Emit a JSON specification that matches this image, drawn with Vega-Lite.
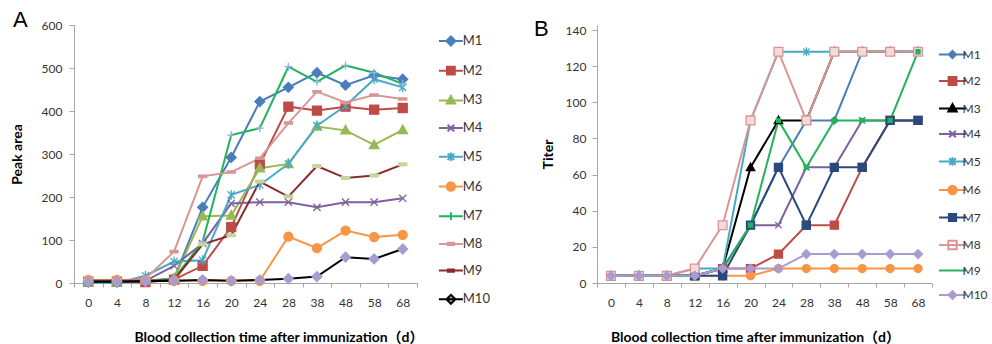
{
  "$schema": "https://vega.github.io/schema/vega-lite/v6.json",
  "background": "white",
  "padding": {"left": 10, "top": 9, "right": 0, "bottom": 0},
  "config": {
    "font": "Lato",
    "view": {"stroke": null},
    "axis": {"grid": false, "domainColor": "#A6A6A6", "tickColor": "#A6A6A6", "labelColor": "#333333", "labelFontSize": 12, "labelFont": "Lato", "titleFont": "Lato, Noto Sans CJK SC", "titleFontSize": 14, "titleFontWeight": "bold", "titleColor": "#000000"},
    "title": {"font": "Liberation Sans", "fontSize": 22, "fontWeight": "normal", "anchor": "start", "frame": "bounds", "baseline": "alphabetic", "color": "#000000"},
    "legend": {"title": null, "padding": 0, "labelFont": "Lato", "labelFontSize": 13, "labelColor": "#333333", "symbolSize": 36, "symbolStrokeWidth": 2, "symbolOpacity": 1}
  },
  "datasets": {
    "peak": [
      {"s":"M1","d":0,"v":3},{"s":"M1","d":4,"v":3},{"s":"M1","d":8,"v":5},{"s":"M1","d":12,"v":10},{"s":"M1","d":16,"v":176},{"s":"M1","d":20,"v":292},{"s":"M1","d":24,"v":422},{"s":"M1","d":28,"v":455},{"s":"M1","d":38,"v":489},{"s":"M1","d":48,"v":460},{"s":"M1","d":58,"v":483},{"s":"M1","d":68,"v":474},
      {"s":"M2","d":0,"v":3},{"s":"M2","d":4,"v":3},{"s":"M2","d":8,"v":2},{"s":"M2","d":12,"v":8},{"s":"M2","d":16,"v":40},{"s":"M2","d":20,"v":130},{"s":"M2","d":24,"v":276},{"s":"M2","d":28,"v":410},{"s":"M2","d":38,"v":401},{"s":"M2","d":48,"v":410},{"s":"M2","d":58,"v":403},{"s":"M2","d":68,"v":407},
      {"s":"M3","d":0,"v":2},{"s":"M3","d":4,"v":2},{"s":"M3","d":8,"v":5},{"s":"M3","d":12,"v":10},{"s":"M3","d":16,"v":155},{"s":"M3","d":20,"v":157},{"s":"M3","d":24,"v":267},{"s":"M3","d":28,"v":277},{"s":"M3","d":38,"v":364},{"s":"M3","d":48,"v":355},{"s":"M3","d":58,"v":321},{"s":"M3","d":68,"v":356},
      {"s":"M4","d":0,"v":2},{"s":"M4","d":4,"v":2},{"s":"M4","d":8,"v":5},{"s":"M4","d":12,"v":40},{"s":"M4","d":16,"v":92},{"s":"M4","d":20,"v":185},{"s":"M4","d":24,"v":188},{"s":"M4","d":28,"v":188},{"s":"M4","d":38,"v":176},{"s":"M4","d":48,"v":188},{"s":"M4","d":58,"v":188},{"s":"M4","d":68,"v":197},
      {"s":"M5","d":0,"v":0},{"s":"M5","d":4,"v":0},{"s":"M5","d":8,"v":17},{"s":"M5","d":12,"v":50},{"s":"M5","d":16,"v":53},{"s":"M5","d":20,"v":205},{"s":"M5","d":24,"v":228},{"s":"M5","d":28,"v":277},{"s":"M5","d":38,"v":366},{"s":"M5","d":48,"v":412},{"s":"M5","d":58,"v":474},{"s":"M5","d":68,"v":455},
      {"s":"M6","d":0,"v":7},{"s":"M6","d":4,"v":7},{"s":"M6","d":8,"v":6},{"s":"M6","d":12,"v":5},{"s":"M6","d":16,"v":5},{"s":"M6","d":20,"v":5},{"s":"M6","d":24,"v":5},{"s":"M6","d":28,"v":108},{"s":"M6","d":38,"v":81},{"s":"M6","d":48,"v":122},{"s":"M6","d":58,"v":107},{"s":"M6","d":68,"v":112},
      {"s":"M7","d":0,"v":5},{"s":"M7","d":4,"v":5},{"s":"M7","d":8,"v":5},{"s":"M7","d":12,"v":10},{"s":"M7","d":16,"v":96},{"s":"M7","d":20,"v":344},{"s":"M7","d":24,"v":360},{"s":"M7","d":28,"v":503},{"s":"M7","d":38,"v":468},{"s":"M7","d":48,"v":506},{"s":"M7","d":58,"v":489},{"s":"M7","d":68,"v":463},
      {"s":"M8","d":0,"v":5},{"s":"M8","d":4,"v":5},{"s":"M8","d":8,"v":10},{"s":"M8","d":12,"v":73},{"s":"M8","d":16,"v":248},{"s":"M8","d":20,"v":258},{"s":"M8","d":24,"v":290},{"s":"M8","d":28,"v":372},{"s":"M8","d":38,"v":445},{"s":"M8","d":48,"v":420},{"s":"M8","d":58,"v":437},{"s":"M8","d":68,"v":428},
      {"s":"M9","d":0,"v":5},{"s":"M9","d":4,"v":5},{"s":"M9","d":8,"v":5},{"s":"M9","d":12,"v":7},{"s":"M9","d":16,"v":90},{"s":"M9","d":20,"v":111},{"s":"M9","d":24,"v":236},{"s":"M9","d":28,"v":201},{"s":"M9","d":38,"v":272},{"s":"M9","d":48,"v":244},{"s":"M9","d":58,"v":250},{"s":"M9","d":68,"v":276},
      {"s":"M10","d":0,"v":3},{"s":"M10","d":4,"v":3},{"s":"M10","d":8,"v":4},{"s":"M10","d":12,"v":5},{"s":"M10","d":16,"v":7},{"s":"M10","d":20,"v":5},{"s":"M10","d":24,"v":7},{"s":"M10","d":28,"v":10},{"s":"M10","d":38,"v":15},{"s":"M10","d":48,"v":60},{"s":"M10","d":58,"v":56},{"s":"M10","d":68,"v":79}
    ],
    "titer": [
      {"s":"M1","d":0,"v":4},{"s":"M1","d":4,"v":4},{"s":"M1","d":8,"v":4},{"s":"M1","d":12,"v":4},{"s":"M1","d":16,"v":8},{"s":"M1","d":20,"v":32},{"s":"M1","d":24,"v":64},{"s":"M1","d":28,"v":90},{"s":"M1","d":38,"v":90},{"s":"M1","d":48,"v":128},{"s":"M1","d":58,"v":128},{"s":"M1","d":68,"v":128},
      {"s":"M2","d":0,"v":4},{"s":"M2","d":4,"v":4},{"s":"M2","d":8,"v":4},{"s":"M2","d":12,"v":4},{"s":"M2","d":16,"v":8},{"s":"M2","d":20,"v":8},{"s":"M2","d":24,"v":16},{"s":"M2","d":28,"v":32},{"s":"M2","d":38,"v":32},{"s":"M2","d":48,"v":64},{"s":"M2","d":58,"v":90},{"s":"M2","d":68,"v":90},
      {"s":"M3","d":0,"v":4},{"s":"M3","d":4,"v":4},{"s":"M3","d":8,"v":4},{"s":"M3","d":12,"v":4},{"s":"M3","d":16,"v":8},{"s":"M3","d":20,"v":64},{"s":"M3","d":24,"v":90},{"s":"M3","d":28,"v":90},{"s":"M3","d":38,"v":128},{"s":"M3","d":48,"v":128},{"s":"M3","d":58,"v":128},{"s":"M3","d":68,"v":128},
      {"s":"M4","d":0,"v":4},{"s":"M4","d":4,"v":4},{"s":"M4","d":8,"v":4},{"s":"M4","d":12,"v":4},{"s":"M4","d":16,"v":8},{"s":"M4","d":20,"v":32},{"s":"M4","d":24,"v":32},{"s":"M4","d":28,"v":64},{"s":"M4","d":38,"v":64},{"s":"M4","d":48,"v":90},{"s":"M4","d":58,"v":90},{"s":"M4","d":68,"v":90},
      {"s":"M5","d":0,"v":4},{"s":"M5","d":4,"v":4},{"s":"M5","d":8,"v":4},{"s":"M5","d":12,"v":8},{"s":"M5","d":16,"v":8},{"s":"M5","d":20,"v":90},{"s":"M5","d":24,"v":128},{"s":"M5","d":28,"v":128},{"s":"M5","d":38,"v":128},{"s":"M5","d":48,"v":128},{"s":"M5","d":58,"v":128},{"s":"M5","d":68,"v":128},
      {"s":"M6","d":0,"v":4},{"s":"M6","d":4,"v":4},{"s":"M6","d":8,"v":4},{"s":"M6","d":12,"v":4},{"s":"M6","d":16,"v":4},{"s":"M6","d":20,"v":4},{"s":"M6","d":24,"v":8},{"s":"M6","d":28,"v":8},{"s":"M6","d":38,"v":8},{"s":"M6","d":48,"v":8},{"s":"M6","d":58,"v":8},{"s":"M6","d":68,"v":8},
      {"s":"M7","d":0,"v":4},{"s":"M7","d":4,"v":4},{"s":"M7","d":8,"v":4},{"s":"M7","d":12,"v":4},{"s":"M7","d":16,"v":4},{"s":"M7","d":20,"v":32},{"s":"M7","d":24,"v":64},{"s":"M7","d":28,"v":32},{"s":"M7","d":38,"v":64},{"s":"M7","d":48,"v":64},{"s":"M7","d":58,"v":90},{"s":"M7","d":68,"v":90},
      {"s":"M8","d":0,"v":4},{"s":"M8","d":4,"v":4},{"s":"M8","d":8,"v":4},{"s":"M8","d":12,"v":8},{"s":"M8","d":16,"v":32},{"s":"M8","d":20,"v":90},{"s":"M8","d":24,"v":128},{"s":"M8","d":28,"v":90},{"s":"M8","d":38,"v":128},{"s":"M8","d":48,"v":128},{"s":"M8","d":58,"v":128},{"s":"M8","d":68,"v":128},
      {"s":"M9","d":0,"v":4},{"s":"M9","d":4,"v":4},{"s":"M9","d":8,"v":4},{"s":"M9","d":12,"v":4},{"s":"M9","d":16,"v":8},{"s":"M9","d":20,"v":32},{"s":"M9","d":24,"v":90},{"s":"M9","d":28,"v":64},{"s":"M9","d":38,"v":90},{"s":"M9","d":48,"v":90},{"s":"M9","d":58,"v":90},{"s":"M9","d":68,"v":128},
      {"s":"M10","d":0,"v":4},{"s":"M10","d":4,"v":4},{"s":"M10","d":8,"v":4},{"s":"M10","d":12,"v":4},{"s":"M10","d":16,"v":8},{"s":"M10","d":20,"v":8},{"s":"M10","d":24,"v":8},{"s":"M10","d":28,"v":16},{"s":"M10","d":38,"v":16},{"s":"M10","d":48,"v":16},{"s":"M10","d":58,"v":16},{"s":"M10","d":68,"v":16}
    ]
  },
  "resolve": {
    "scale": {"x": "independent", "y": "independent", "stroke": "independent", "fill": "independent", "shape": "independent"},
    "legend": {"stroke": "independent", "fill": "independent", "shape": "independent"}
  },
  "spacing": 44,
  "hconcat": [
    {
      "title": {"text": "A", "offset": -13, "dx": 3},
      "width": 343,
      "height": 258,
      "data": {"name": "peak"},
      "encoding": {
        "x": {"field": "d", "type": "ordinal", "bandPosition": 0.5, "sort": [0,4,8,12,16,20,24,28,38,48,58,68],
          "scale": {"type": "band", "paddingInner": 0, "paddingOuter": 0},
          "title": "Blood collection time after immunization（d）",
          "axis": {"labelAngle": 0, "tickBand": "extent", "tickSize": 4, "labelPadding": 10, "titleX": 204.5, "titleY": 54, "titleAlign": "center", "titleBaseline": "middle"}},
        "y": {"field": "v", "type": "quantitative", "scale": {"domain": [0, 600], "nice": false},
          "title": "Peak area",
          "axis": {"values": [0,100,200,300,400,500,600], "tickSize": 5, "labelPadding": 7, "titlePadding": 17}}
      },
      "resolve": {"scale": {"stroke": "independent", "fill": "independent", "shape": "independent"}, "legend": {"stroke": "independent", "fill": "independent", "shape": "independent"}},
      "layer": [
        {
          "mark": {"type": "line", "strokeWidth": 2},
          "encoding": {
            "stroke": {"field": "s", "type": "nominal", "legend": null,
              "scale": {"domain": ["M1","M2","M3","M4","M5","M6","M7","M8","M9","M10"],
                "range": ["#4A7EBB","#BE4B48","#98B954","#7D60A0","#46AAC5","#F79646","#22B45A","#D99694","#8C2A2A","#000000"]}}
          }
        },
        {
          "mark": {"type": "point", "filled": true, "opacity": 1, "strokeWidth": 1.3, "size": 81},
          "encoding": {
            "stroke": {"field": "s", "type": "nominal", "legend": null,
              "scale": {"domain": ["M1","M2","M3","M4","M5","M6","M7","M8","M9","M10"],
                "range": ["#4A7EBB","#BE4B48","#98B954","#7D60A0","#46AAC5","#F79646","#8EB4E3","#D99694","#C3D69B","#A99BD0"]}},
            "fill": {"field": "s", "type": "nominal", "legend": null,
              "scale": {"domain": ["M1","M2","M3","M4","M5","M6","M7","M8","M9","M10"],
                "range": ["#4A7EBB","#BE4B48","#98B954","#7D60A0","#46AAC5","#F79646","#8EB4E3","#D99694","#C3D69B","#A99BD0"]}},
            "shape": {"field": "s", "type": "nominal", "legend": null,
              "scale": {"domain": ["M1","M2","M3","M4","M5","M6","M7","M8","M9","M10"],
                "range": ["M0,-1.1L1.1,0L0,1.1L-1.1,0Z","M-1,-1H1V1H-1Z","M0,-1.1L1.05,0.8H-1.05Z","M-0.8,-0.8L0.8,0.8M-0.8,0.8L0.8,-0.8","M-0.8,-0.8L0.8,0.8M-0.8,0.8L0.8,-0.8M0,-1.1V1.1","circle","M-0.9,0H0.9M0,-0.9V0.9","M-0.9,-0.25H0.9V0.25H-0.9Z","M-0.9,-0.3H0.9V0.3H-0.9Z","M0,-1.1L1.1,0L0,1.1L-1.1,0Z"]}}
          }
        },
        {
          "mark": {"type": "point", "filled": true, "opacity": 0, "strokeWidth": 2, "size": 36},
          "encoding": {
            "stroke": {"field": "s", "type": "nominal",
              "scale": {"domain": ["M1","M2","M3","M4","M5","M6","M7","M8","M9","M10"],
                "range": ["#4A7EBB","#BE4B48","#98B954","#7D60A0","#46AAC5","#F79646","#22B45A","#D99694","#8C2A2A","#000000"]},
              "legend": {"orient": "none", "legendX": 343, "legendY": 9.5, "symbolOffset": 27.4, "labelOffset": 5.4, "rowPadding": 12.7}},
            "fill": {"field": "s", "type": "nominal",
              "scale": {"domain": ["M1","M2","M3","M4","M5","M6","M7","M8","M9","M10"],
                "range": ["#4A7EBB","#BE4B48","#98B954","#7D60A0","#46AAC5","#F79646","#22B45A","#D99694","#C3D69B","#A99BD0"]},
              "legend": {"orient": "none", "legendX": 343, "legendY": 9.5, "symbolOffset": 27.4, "labelOffset": 5.4, "rowPadding": 12.7}},
            "shape": {"field": "s", "type": "nominal",
              "scale": {"domain": ["M1","M2","M3","M4","M5","M6","M7","M8","M9","M10"],
                "range": ["M-4,0H4M0,-1.5L1.5,0L0,1.5L-1.5,0Z","M-4,0H4M-1.3,-1.3H1.3V1.3H-1.3Z","M-4,0H4M0,-1.5L1.4,1H-1.4Z","M-4,0H4M-1.1,-1.1L1.1,1.1M-1.1,1.1L1.1,-1.1","M-4,0H4M-1.1,-1.1L1.1,1.1M-1.1,1.1L1.1,-1.1M0,-1.4V1.4","M-4,0H4M-1.4,0A1.4,1.4,0,1,0,1.4,0A1.4,1.4,0,1,0,-1.4,0Z","M-4,0H4M0,-1.3V1.3","M-4,0H4M-1,-0.4H1V0.4H-1Z","M-4,0H4M-1,-0.4H1V0.4H-1Z","M-4,0H4M0,-1.5L1.5,0L0,1.5L-1.5,0Z"]},
              "legend": {"orient": "none", "legendX": 343, "legendY": 9.5, "symbolOffset": 27.4, "labelOffset": 5.4, "rowPadding": 12.7}}
          }
        }
      ]
    },
    {
      "title": {"text": "B", "offset": -16.5, "dx": -7},
      "width": 335,
      "height": 258,
      "data": {"name": "titer"},
      "encoding": {
        "x": {"field": "d", "type": "ordinal", "bandPosition": 0.5, "sort": [0,4,8,12,16,20,24,28,38,48,58,68],
          "scale": {"type": "band", "paddingInner": 0, "paddingOuter": 0},
          "title": "Blood collection time after immunization（d）",
          "axis": {"labelAngle": 0, "tickBand": "extent", "tickSize": 4, "labelPadding": 10, "titleX": 158, "titleY": 54, "titleAlign": "center", "titleBaseline": "middle"}},
        "y": {"field": "v", "type": "quantitative", "scale": {"domain": [0, 142.8], "nice": false},
          "title": "Titer",
          "axis": {"values": [0,20,40,60,80,100,120,140], "tickSize": 5, "labelPadding": 6, "titlePadding": 10}}
      },
      "resolve": {"scale": {"stroke": "independent", "fill": "independent", "shape": "independent"}, "legend": {"stroke": "independent", "fill": "independent", "shape": "independent"}},
      "layer": [
        {
          "mark": {"type": "line", "strokeWidth": 2},
          "encoding": {
            "stroke": {"field": "s", "type": "nominal", "legend": null,
              "scale": {"domain": ["M1","M2","M3","M4","M5","M6","M7","M8","M9","M10"],
                "range": ["#4A7EBB","#BE4B48","#000000","#7D60A0","#46AAC5","#F79646","#2A4A7F","#D99694","#22B45A","#A99BD0"]}}
          }
        },
        {
          "mark": {"type": "point", "filled": true, "opacity": 1, "strokeWidth": 1.3, "size": 64},
          "encoding": {
            "stroke": {"field": "s", "type": "nominal", "legend": null,
              "scale": {"domain": ["M1","M2","M3","M4","M5","M6","M7","M8","M9","M10"],
                "range": ["#4A7EBB","#BE4B48","#000000","#7D60A0","#46AAC5","#F79646","#2A4A7F","#D99694","#22B45A","#A99BD0"]}},
            "fill": {"field": "s", "type": "nominal", "legend": null,
              "scale": {"domain": ["M1","M2","M3","M4","M5","M6","M7","M8","M9","M10"],
                "range": ["#4A7EBB","#BE4B48","#000000","#7D60A0","#46AAC5","#F79646","#2A4A7F","#F2DCDB","#22B45A","#A99BD0"]}},
            "shape": {"field": "s", "type": "nominal", "legend": null,
              "scale": {"domain": ["M1","M2","M3","M4","M5","M6","M7","M8","M9","M10"],
                "range": ["M0,-0.9L0.9,0L0,0.9L-0.9,0Z","M-1,-1H1V1H-1Z","M0,-1.1L1.05,0.8H-1.05Z","M-0.8,-0.8L0.8,0.8M-0.8,0.8L0.8,-0.8","M-0.8,-0.8L0.8,0.8M-0.8,0.8L0.8,-0.8M0,-1.1V1.1","circle","M-1,-1H1V1H-1Z","M-1.1,-1.1H1.1V1.1H-1.1Z","M-0.5,-0.5H0.5V0.5H-0.5Z","M0,-1.1L1.1,0L0,1.1L-1.1,0Z"]}}
          }
        },
        {
          "mark": {"type": "point", "filled": true, "opacity": 0, "strokeWidth": 2, "size": 36},
          "encoding": {
            "stroke": {"field": "s", "type": "nominal",
              "scale": {"domain": ["M1","M2","M3","M4","M5","M6","M7","M8","M9","M10"],
                "range": ["#4A7EBB","#BE4B48","#000000","#7D60A0","#46AAC5","#F79646","#2A4A7F","#D99694","#22B45A","#A99BD0"]},
              "legend": {"orient": "none", "legendX": 335, "legendY": 23.5, "symbolOffset": 14.5, "labelOffset": 4, "rowPadding": 10.5, "labelFontSize": 12}},
            "fill": {"field": "s", "type": "nominal",
              "scale": {"domain": ["M1","M2","M3","M4","M5","M6","M7","M8","M9","M10"],
                "range": ["#4A7EBB","#BE4B48","#000000","#7D60A0","#46AAC5","#F79646","#2A4A7F","#FFFFFF","#22B45A","#A99BD0"]},
              "legend": {"orient": "none", "legendX": 335, "legendY": 23.5, "symbolOffset": 14.5, "labelOffset": 4, "rowPadding": 10.5, "labelFontSize": 12}},
            "shape": {"field": "s", "type": "nominal",
              "scale": {"domain": ["M1","M2","M3","M4","M5","M6","M7","M8","M9","M10"],
                "range": ["M-4.5,0H4.5M0,-1.2L1.2,0L0,1.2L-1.2,0Z","M-4.5,0H4.5M-1.3,-1.3H1.3V1.3H-1.3Z","M-4.5,0H4.5M0,-1.5L1.4,1H-1.4Z","M-4.5,0H4.5M-1.1,-1.1L1.1,1.1M-1.1,1.1L1.1,-1.1","M-4.5,0H4.5M-1.1,-1.1L1.1,1.1M-1.1,1.1L1.1,-1.1M0,-1.4V1.4","M-4.5,0H4.5M-1.4,0A1.4,1.4,0,1,0,1.4,0A1.4,1.4,0,1,0,-1.4,0Z","M-4.5,0H4.5M-1.2,-1.2H1.2V1.2H-1.2Z","M-4.5,0H4.5M-1.4,-1.4H1.4V1.4H-1.4Z","M-4.5,0H4.5","M-4.5,0H4.5M0,-1.3L1.3,0L0,1.3L-1.3,0Z"]},
              "legend": {"orient": "none", "legendX": 335, "legendY": 23.5, "symbolOffset": 14.5, "labelOffset": 4, "rowPadding": 10.5, "labelFontSize": 12}}
          }
        }
      ]
    }
  ]
}
